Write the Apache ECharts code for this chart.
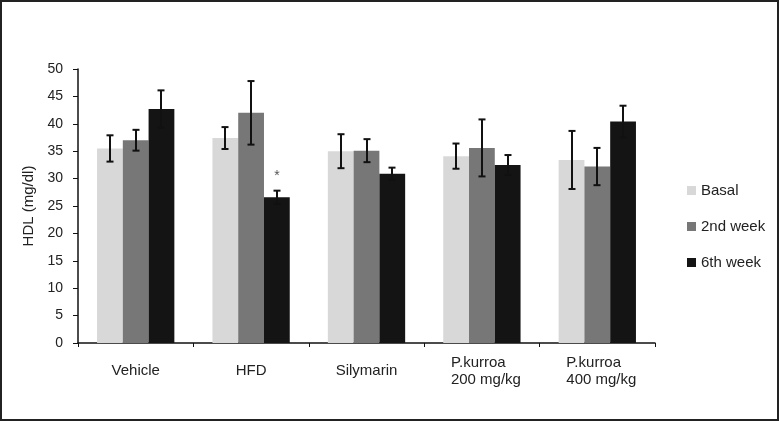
<!DOCTYPE html>
<html>
<head>
<meta charset="utf-8">
<script src="https://cdn.jsdelivr.net/npm/echarts@6/dist/echarts.min.js"></script>
<style>
html,body{margin:0;padding:0;background:#fff;}
#frame{width:779px;height:421px;box-sizing:border-box;border:2px solid #222;position:relative;}
#chart{position:absolute;left:-2px;top:-2px;width:779px;height:421px;}
</style>
</head>
<body>
<div id="frame"><div id="chart"></div></div>
<script>
const categories = ['Vehicle', 'HFD', 'Silymarin', 'P.kurroa\n200 mg/kg', 'P.kurroa\n400 mg/kg'];
const seriesNames = ['Basal', '2nd week', '6th week'];
const basal = [35.5, 37.4, 35.0, 34.1, 33.4];
const week2 = [37.0, 42.0, 35.1, 35.6, 32.2];
const week6 = [42.7, 26.6, 30.9, 32.5, 40.4];
const basalErr = [2.4, 2.0, 3.1, 2.3, 5.3];
const week2Err = [1.9, 5.8, 2.1, 5.2, 3.4];
const week6Err = [3.4, 1.2, 1.1, 1.8, 2.9];
const yTicks = [0, 5, 10, 15, 20, 25, 30, 35, 40, 45, 50];
const marks = [{ category: 'HFD', seriesIndex: 2, text: '*', value: 30.4 }];

const colors = ['#d8d8d8', '#777777', '#141414'];
const gapFrac = 0.33;
const values = [basal, week2, week6];
const errs = [basalErr, week2Err, week6Err];

const errData = [];
values.forEach((vals, s) => {
  vals.forEach((v, i) => errData.push([i, v, errs[s][i], s]));
});

const chart = echarts.init(document.getElementById('chart'));
const font = 'Liberation Sans, Arial, sans-serif';

const series = values.map((vals, s) => ({
  name: seriesNames[s],
  type: 'bar',
  data: vals,
  barGap: '0%',
  barCategoryGap: (gapFrac * 100) + '%',
  itemStyle: { color: colors[s] },
  silent: true
}));

series.push({
  type: 'custom',
  silent: true,
  z: 10,
  data: errData,
  renderItem: function (params, api) {
    const idx = api.value(0), v = api.value(1), e = api.value(2), s = api.value(3);
    const band = api.size([1, 0])[0];
    const bw = band * (1 - gapFrac) / 3;
    const c = api.coord([idx, v]);
    const x = Math.round(c[0] + (s - 1) * bw);
    const yTop = api.coord([idx, v + e])[1];
    const yBot = api.coord([idx, v - e])[1];
    const cap = 3.5;
    const style = { stroke: '#111', lineWidth: 2 };
    return {
      type: 'group',
      children: [
        { type: 'line', shape: { x1: x, y1: yTop, x2: x, y2: yBot }, style },
        { type: 'line', shape: { x1: x - cap, y1: yTop, x2: x + cap, y2: yTop }, style },
        { type: 'line', shape: { x1: x - cap, y1: yBot, x2: x + cap, y2: yBot }, style }
      ]
    };
  }
});

series.push({
  type: 'custom',
  silent: true,
  z: 11,
  data: marks.map(m => [categories.indexOf(m.category), m.value, m.seriesIndex, m.text]),
  renderItem: function (params, api) {
    const idx = api.value(0), v = api.value(1), s = api.value(2);
    const band = api.size([1, 0])[0];
    const bw = band * (1 - gapFrac) / 3;
    const c = api.coord([idx, v]);
    return {
      type: 'text',
      style: {
        x: c[0] + (s - 1) * bw, y: c[1],
        text: marks[params.dataIndex].text,
        fill: '#555', font: '14px ' + font,
        align: 'center', verticalAlign: 'middle'
      }
    };
  }
});

chart.setOption({
  animation: false,
  textStyle: { fontFamily: font },
  grid: { left: 78, right: 124, top: 69, bottom: 78 },
  legend: {
    orient: 'vertical',
    left: 682,
    top: 178,
    itemWidth: 9,
    itemHeight: 9,
    itemGap: 21,
    icon: 'rect',
    textStyle: { fontSize: 15, color: '#222', fontFamily: font },
    data: seriesNames
  },
  xAxis: {
    type: 'category',
    data: categories,
    axisLine: { lineStyle: { color: '#111', width: 1.5 } },
    axisTick: { show: true, length: 4, inside: false, lineStyle: { color: '#111' } },
    axisLabel: {
      color: '#222',
      fontSize: 15,
      margin: 28,
      verticalAlign: 'middle',
      lineHeight: 17,
      interval: 0,
      formatter: function (v) {
        if (v.indexOf('\n') >= 0) {
          return v.split('\n').map(l => '{l|' + l + '}').join('\n');
        }
        return v;
      },
      rich: { l: { width: 72, padding: [0, 0, 0, 10], align: 'left', fontSize: 15, color: '#222', lineHeight: 17, fontFamily: font } }
    }
  },
  yAxis: {
    type: 'value',
    min: yTicks[0],
    max: yTicks[yTicks.length - 1],
    interval: 5,
    name: 'HDL (mg/dl)',
    nameLocation: 'middle',
    nameGap: 41,
    nameRotate: 90,
    nameTextStyle: { fontSize: 15, color: '#222', fontFamily: font },
    splitLine: { show: false },
    axisLine: { show: true, lineStyle: { color: '#111', width: 1.5 } },
    axisTick: { show: true, length: 5, lineStyle: { color: '#111' } },
    axisLabel: { color: '#222', fontSize: 14, margin: 15 }
  },
  series
});
</script>
</body>
</html>
